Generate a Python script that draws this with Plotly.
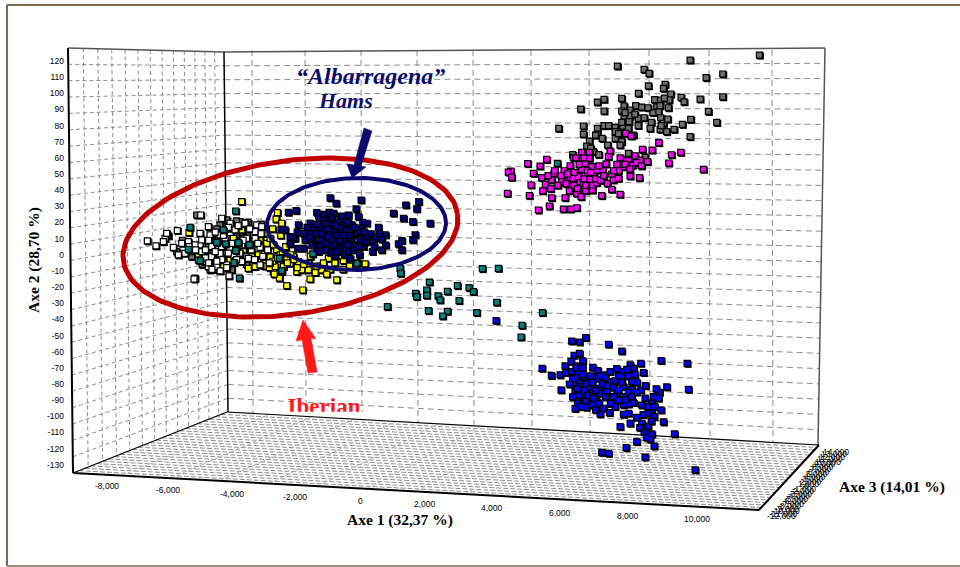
import math
import plotly.graph_objects as go

W, H = 960, 567
X0, XK = -11264.0, 30.5
Y0, YK = 157.7, 0.619

def dx(p):
    return X0 + XK * p

def dy(p):
    return Y0 - YK * p

gray_x = [11898,9783,7566,8380,8532,10780,10271,8512,9020,8970,8207,9193,10780,10088,9508,9600,9142,8868,7159,6956,7698,8125,8308,7769,6447,7159,7698,7953,8766,8868,9122,8817,10342,7769,7953,8207,8380,8888,9803,10597,7922,8970,9549,5776,6529,7159,6956,7495,7729,8563,8868,9071,9295,6956,7495,6529,8054,9783,6712,7698,7271,6630,7647,6834,7902,8410,
          -6129,-5265,-5316,-4604,-4248,-4044,-4655,-4909,-5062,-4451,-4095,-5417,-4350,-3943,-4553,-4858,-4197,-5875,
          -5700,-5200,-4950,-4750,-4500,-4300,-4150,-3950,-3900,-3650,-3750,-4450,-5100,-4200,-4650,-4050,-3700,-3300,-3600,-3800,
          8700,8650,8600,8200,7700,7900,7300,7100,6750,7000,6200,6900,7500,8900,9100,8500,9000,7800,8100,7600]
gray_y = [123.6,120.5,116.8,114.7,112.3,111.9,109.6,104.6,105.5,103,99.9,99.5,97.8,96.4,97.4,94.7,95.8,95.8,96.2,94.5,96.8,92.3,91.4,92.1,90.2,89,89,89.6,91.6,92.3,91,88.5,88.7,85.9,85.9,84.4,84.8,84.8,83.8,81.9,82.4,81.3,80.7,78.2,79.7,79.9,78.2,78.8,79.7,78.2,77.6,76.2,77.6,74.5,76.2,74.7,74.1,73.1,70.4,70,67.9,67.3,67.9,63.8,62.8,60.3,
          11.7,24.6,-14.5,-9.4,17.4,12.3,10.2,6.1,-1.1,-2.2,8.1,-1.1,21.6,20.5,18.5,-9.4,-9.4,1.9,
          9,4,-3,0,5,10,2,-2,14,13,-6,-6,-6,-5,16,21,20,19,8,4,
          96,88,82,80,82,78,80,72,66,62,62,74,72,80,84,91,97,88,87,75]
magenta_x = [4210,4881,5156,5491,5919,6142,6325,4312,4240,4342,4830,5207,5410,5003,4932,5257,5369,5288,5532,5563,5563,5969,6325,6458,6600,6803,7088,7393,7647,7261,7444,7597,7953,8237,7393,7749,7769,7902,8105,8034,8258,8481,8329,8624,8827,9214,9498,9132,10190,7820,7983,7342,7291,6478,6712,6224,6712,6580,6122,5939,5634,5847,5868,6122,6203,6122,6102,6427,6529,6813,6580,6834,6783,6936,7119,7220,6478,6376,6732,6936,
             6000,6250,6400,6550,6650,6900,7050,6600,6250,6050,5750,5650,6350,7150,7000,6550,6750,6300,5450,7800,7950,8150,7600,7550,7650,8300,7450]
magenta_y = [38,36.6,27.7,30.2,28.3,28.3,29.1,51.8,51.2,47.9,56.4,54.9,59,50.4,43.2,47.7,43.6,39.6,40.9,46.3,35.3,35.3,38,35.9,39.6,40,36.6,40.5,37.4,44.2,46.3,47.3,48.7,47.7,50,54.5,58.6,58.2,61.3,55.5,58.6,57.6,65.2,64.8,69.4,61.9,63.4,56.8,52.9,75.1,73.5,64.2,60.7,63.4,63.4,60.1,59.7,56.2,55.1,52,50.4,48.9,45.2,47.9,47.3,42.7,39.6,45.2,44.2,43.2,49.3,49.3,54.5,52.4,52,56.2,52.9,48.3,46.7,44.6,
             44,51,56,60,52,47,46,43,43,50,43,52,41,49,55,47,51,60,49,56,53,57,52,56,60,55,52]
yellow_x = [-3892,-2804,-2844,-2671,-5499,-2519,-2031,-993,-1807,-2743,-2926,-2671,-2214,-1858,-1451,-1197,-790,-943,-1248,-1858,-2163,-2417,-2875,-2621,-3231,-3028,-2824,-2926,-3129,-3333,-3536,-3180,-3028,-2722,-2316,-3689,-3892,-3587,-3841,-4807,-4248,-5214,-3384,-2519,-2061,-4044,-4451,-3129,-129,-3485,-4858,-4146,
            -3400,-3200,-2950,-2800,-2650,-2500,-2400,-2200,-2000,-1800,-1600,-1400,-1050,-600,-350,-2950,-2700,-2550,-3200,-2300,-1650,-2900,-3050,-800,-1300]
yellow_y = [32.9,26.1,22,19.5,13.7,-19.1,-21.8,-15.6,-15,-14.5,-10.4,-10.4,-10.4,-9.4,-9.4,-9,-3.6,-0.7,-2.2,-5.3,-4.2,-5.3,-7.3,-7.3,-5.3,-1.1,3,6.1,7.1,9.2,12.3,13.3,10.2,-0.1,-1.1,-8.4,15.4,0.9,3,10.2,-3.2,-0.1,-0.1,-3.2,-9.4,5.1,-7.3,3,-5.7,-7.3,-2.2,10.2,
            -3,2,-4,-2,2,-5,0,-8,-6,-1,-7,-5,-5,-7,-5,16,12,5,-7,-3,-11,-12,-8,-9,-12]
white_x = [-6770,-6506,-6231,-6180,-5855,-5143,-5346,-4278,-5977,-5723,-5519,-5824,-5621,-5163,-5112,-5163,-4909,-4502,-4248,-3790,-3434,-4858,-5112,-4807,-4553,-4350,-4655,-4909,-4095,-4400,-4146,-3333,-3333,-3688,-3739,-3485,-3282,-4807,-4502,-5214,-4248,-5011,-3892,-5417,-3485,-6282,-4553,-3892,-4350,-5316,
           -5000,-4900,-4700,-4600,-4700,-4450,-4300,-4200,-4050,-3950,-3850,-3600,-3500,-3400,-4500,-4350,-4650,-5000,-5300,-5500,-4900,-4550,-4800,-4300,-4000,-3650,-3300,-3100,-3050,-3250]
white_y = [8.6,5.5,10.2,13.3,15,24.6,-15,-13.1,4.6,7.1,8.1,-0.1,0.9,6.1,9.2,13.3,17.4,22.6,19.5,19.5,18.5,12.3,2,-1.1,0.9,-6.3,-7.3,-7.3,15.4,9.2,-0.1,4.6,-6.3,-2.2,10.2,10.2,17.4,5.1,5.1,-3.2,4,-4.2,6.1,2.4,14.3,8.1,12.3,-4.2,16.4,6.1,
           3,9,2,8,14,12,1,7,-3,1,9,3,-3,7,-3,-8,-4,-2,3,5,-5,-10,-9,17,18,16,13,3,-5,-1]
teal_x = [3448,3936,936,957,1831,1414,1445,1750,1750,2096,2157,2380,2686,3041,3174,2736,3886,550,1801,2380,2238,3275,5279,4659,4628,5735,
          -4075,-5468,-4451,-4655,-5519,-4380,-3994,-3658,-4075,-5163,-4126,-3963,-2743,-2671,-2265,-1726,-1197,-383]
teal_y = [-8.6,-8.4,-8.4,-11.5,-16.9,-23.9,-25.9,-21.8,-25.1,-25.5,-28,-22.6,-19.1,-20.4,-22.8,-28.4,-29.4,-32.1,-34.6,-35,-37.9,-35.8,-35.8,-43.7,-50.9,56.6,
          27.1,17,15.4,7.7,3.4,6.7,7.5,6.1,2.6,-3.6,-4.9,-14.5,-2.2,-9.8,10.2,0.5,6.1,-5.3]
navy_x = [-1197,-1014,-251,1112,1508,1447,735,1041,1325,1854,-2234,-2468,-1604,-1227,-404,-638,-333,-892,-1502,-1807,-2163,-1909,-1604,-1248,-1095,-790,-536,-78,278,491,380,1397,1325,990,888,990,380,95,-180,-434,-739,-892,-485,-231,-78,125,-1197,-1400,-1705,-1960,-2316,-2570,-2692,-2417,-2183,-1604,-1197,-892,-485,-1044,-1502,-1807,-587,-1380,-1095,-1705,-2011,-1502,-943,-282,-2417,
          -1500,-1350,-1200,-1000,-900,-700,-650,-1800,-1650,-1450,-1300,-1150,-1000,-800,-650,-550,-350,-150,50,200,-1900,-1550,-1400,-1150,-1300,-1750,-1550,-1350,-1000,-750,-300,-100,150,300,-2000,-1250,-1100,-900,-600,-450,-200,-1600,-1450,-850,-1050,-2200,-800,-300,500,-650]
navy_y = [35.2,31.9,33.9,30.8,32.9,28.4,25.7,22.6,20.5,19.5,27.3,26.3,26.1,26.3,28.4,24.6,23.6,22,21.6,19.5,18.5,14.3,16.4,18.5,15.4,18.5,18.5,19.5,17,12.3,9.6,12.3,9.2,8.8,6.7,3,3,2,5.1,6.1,10.2,13.3,12.3,16.4,11.2,8.1,11.2,11.2,8.1,9.2,10.2,15.4,15.8,6.7,4,4,1.3,4,3,-0.7,6.1,13.3,-2.2,21.6,25.7,16.4,13.3,12.3,8.1,9.2,11.2,
          17,19,14,20,17,15,20,11,13,9,7,9,12,7,6,10,14,14,13,11,17,24,25,23,16,6,2,3,2,0,0,8,5,13,4,11,6,9,12,17,20,19,13,24,18,14,12,5,6,2]
blue_x = [6174,6408,6601,7293,7699,6245,6408,6509,6347,8899,9693,5269,5970,5553,5818,5991,6174,6377,6815,6967,7343,7547,7720,7954,8055,8279,8360,6377,6682,6987,7343,7699,8004,8157,5848,6245,6428,6682,6987,7445,7750,8004,8279,8421,9072,9733,8849,6276,6530,6784,7038,7343,7547,7801,8411,8666,8818,6347,6632,6937,7394,7750,8055,8615,6276,6611,7038,7323,7750,7903,8615,8899,8157,8686,8970,7649,7954,8310,8381,8615,8564,9306,8157,8686,7832,7089,7293,8411,9937,3865,6530,7140,7598,7242,6835,7496,7903,
          6300,6500,6600,6800,6900,7100,7200,7500,7700,7900,8100,6200,6400,6600,6800,7000,7200,7450,7600,7900,8150,8300,8500,6450,6900,7150,6200,6350,6550,7250,7050,6750,7800,8000,8500,8700,8350,8500,8250,8450,6150,6300,6500,7600,7850,8750,6100,6650,7350,8600]
blue_y = [-53.4,-54,-51.3,-55.4,-59.6,-62.2,-61,-65.7,-68.8,-65.5,-67.2,-70.3,-68.8,-74.8,-74.4,-72.9,-72.3,-73.4,-69.7,-71.7,-72.3,-70.5,-72.3,-68.2,-70.3,-67.2,-72.9,-78.5,-77.1,-76.5,-78.5,-75.4,-78.5,-78.9,-83.7,-80.6,-81.6,-81.6,-82.7,-82,-81.6,-83.3,-83.7,-81,-81.8,-83.3,-85.1,-84.7,-87.8,-85.8,-85.8,-87.8,-85.8,-87.8,-88.8,-87.8,-88.8,-91.9,-92.9,-90.9,-90.9,-92.9,-91.5,-91.9,-95.2,-94.4,-98.5,-97.7,-98.8,-98.1,-96.1,-96.1,-100.6,-100.2,-103.5,-106.4,-104.3,-104.3,-109.5,-110.9,-114.2,-110.9,-115.7,-118.4,-119.4,-122.3,-122.9,-125.2,-133.2,-40.8,-75.4,-74.4,-83.7,-84.7,-88.8,-94,-92.4,
          -76,-74,-80,-79,-84,-80,-76,-78,-79,-75,-74,-88,-87,-90,-93,-92,-88,-88,-90,-85,-85,-93,-94,-94,-96,-95,-77,-83,-84,-81,-75,-75,-90,-88,-98,-94,-99,-106,-107,-113,-66,-70,-70,-75,-71,-83,-80,-87,-92,-103]

axe2_ticks = list(range(-130, 121, 10))
axe1_labels = ["-8,000","-6,000","-4,000","-2,000","0","2,000","4,000","6,000","8,000","10,000"]
axe3_labels = [f"{v:,}" for v in range(-12000, 14001, 1000)]

axe1_px = [107,168,232,295,360,425,492,560,628,697]
axe1_py = [486,490,494,497,501,504,508,513,516,519]

fig = go.Figure()

def line_trace(segs, color, width, dash="solid"):
    xs, ys = [], []
    for (a, b, c, d) in segs:
        xs += [dx(a), dx(c), None]
        ys += [dy(b), dy(d), None]
    fig.add_trace(go.Scatter(x=xs, y=ys, mode="lines", hoverinfo="skip", showlegend=False,
                             line=dict(color=color, width=width, dash=dash)))

def poly(pts, color):
    fig.add_trace(go.Scatter(x=[dx(p[0]) for p in pts] + [dx(pts[0][0])],
                             y=[dy(p[1]) for p in pts] + [dy(pts[0][1])],
                             mode="lines", fill="toself", fillcolor=color, hoverinfo="skip",
                             showlegend=False, line=dict(color=color, width=0.5)))

def ellipse(cx, cy, a, b, deg, color, width):
    th = math.radians(deg)
    xs, ys = [], []
    for i in range(181):
        t = 2 * math.pi * i / 180
        xs.append(dx(cx + a * math.cos(t) * math.cos(th) - b * math.sin(t) * math.sin(th)))
        ys.append(dy(cy - a * math.cos(t) * math.sin(th) - b * math.sin(t) * math.cos(th)))
    fig.add_trace(go.Scatter(x=xs, y=ys, mode="lines", hoverinfo="skip", showlegend=False,
                             line=dict(color=color, width=width)))

# back wall grid
segs = [(228 - 4 * (25 - k) / 25, 52 + 13.85 * k, 825 - 7 * k / 26, 48 + 15.27 * k) for k in range(1, 26)]
line_trace(segs, "#8c8c8c", 1, "6px,4px")
bw_x = [252,305,361,417,473,531,589,649,709,772]
line_trace([(v, 50, v + 1, 412 + 33 * (v - 228) / 592) for v in bw_x], "#8c8c8c", 1, "6px,4px")

# side wall grid
segs = []
for k in range(1, 26):
    segs.append((68 + 5 * k / 26, 48 + 16.35 * k, 224 + 4 * k / 26, 52 + 13.85 * k))
line_trace(segs, "#8c8c8c", 1, "4px,3px")
segs = []
for i in range(1, 13):
    s = i / 13
    t = s * 1.3 / (1 + 0.3 * s)
    segs.append((68 + 156 * t, 48 + 4 * t, 73 + 155 * t, 473 - 61 * t))
line_trace(segs, "#8c8c8c", 1, "4px,3px")

# caption cut off by a white strip at the floor edge
fig.add_trace(go.Scatter(x=[dx(324)], y=[dy(408)], mode="text", text=["Iberian"], hoverinfo="skip",
                         showlegend=False,
                         textfont=dict(family="Liberation Serif", size=23, color="#ff1a1a", weight="bold")))
poly([(282, 412), (368, 412), (368, 426), (282, 426)], "#ffffff")

# floor
segs = []
for k in range(1, 26):
    t = k / 26
    segs.append((73 + 154 * t, 473 - 61 * t, 759 + 60 * t, 510 - 65 * t))
line_trace(segs, "#8c8c8c", 1, "5px,2px")
segs = []
for i in range(1, 14):
    u = i / 14
    segs.append((73 + 686 * u, 473 + 37 * u, 227 + 592 * u, 412 + 33 * u))
line_trace(segs, "#a5a5a5", 0.8, "3px,3px")

# box edges
line_trace([(68, 48, 224, 52), (224, 52, 825, 48)], "#555555", 1.5)
line_trace([(825, 48, 818, 445)], "#555555", 1.5)
line_trace([(224, 52, 228, 412)], "#000000", 1.5)
line_trace([(68, 48, 73, 473)], "#000000", 2)
line_trace([(73, 473, 759, 510), (759, 510, 819, 445)], "#000000", 2)
line_trace([(227, 412, 819, 445), (73, 473, 227, 412)], "#000000", 1.2)

def points(x, y, color):
    fig.add_trace(go.Scatter(x=[v + XK for v in x], y=[v - YK for v in y], mode="markers", showlegend=False,
                             hoverinfo="skip", marker=dict(symbol="square", size=7, color="#000000")))
    fig.add_trace(go.Scatter(x=x, y=y, mode="markers", showlegend=False,
                             marker=dict(symbol="square", size=6, color=color,
                                         line=dict(color="#000000", width=1.2))))

points(gray_x, gray_y, "#6e6e6e")
points(magenta_x, magenta_y, "#ff00ff")
points(yellow_x, yellow_y, "#ffff00")
points(white_x, white_y, "#ffffff")
points(teal_x, teal_y, "#008080")
points(navy_x, navy_y, "#000080")
points(blue_x, blue_y, "#0000ff")

ellipse(290.5, 237.5, 168.8, 76.7, 8, "#c00000", 5)
ellipse(356.5, 224, 89.5, 46, 1, "#0a0a6e", 4)
poly([(364, 128), (372, 131), (361, 166), (366, 167), (352, 178), (347, 164), (354, 165)], "#0a0a6e")
poly([(303, 320), (316, 339), (311, 338), (317, 372), (308, 373), (302, 340), (296, 341)], "#ff1a1a")

def note(px, py, text, size, color="#000000", family="Liberation Sans", bold=False, italic=False, angle=0):
    t = text
    if bold:
        t = f"<b>{t}</b>"
    if italic:
        t = f"<i>{t}</i>"
    fig.add_annotation(xref="paper", yref="paper", x=px / W, y=1 - py / H, text=t, showarrow=False,
                       xanchor="center", yanchor="middle", textangle=angle,
                       font=dict(family=family, size=size, color=color))

for lab, a, b in zip(axe1_labels, axe1_px, axe1_py):
    note(a, b, lab, 8.5)
n = len(axe3_labels)
for i, lab in enumerate(axe3_labels):
    note(781 + 55 * i / (n - 1), 516 - 64 * i / (n - 1), lab, 8.5)

note(400, 520, "Axe 1 (32,37 %)", 15.5, family="Liberation Serif", bold=True)
note(34, 260, "Axe 2 (28,70 %)", 15.5, family="Liberation Serif", bold=True, angle=-90)
note(892, 487, "Axe 3 (14,01 %)", 15.5, family="Liberation Serif", bold=True)
note(370, 76, "“Albarragena”", 24, color="#0a0a6e", family="Liberation Serif", bold=True, italic=True)
note(345, 100, "Hams", 22, color="#0a0a6e", family="Liberation Serif", bold=True, italic=True)

# page frame
fig.add_shape(type="line", xref="paper", yref="paper", x0=7 / W, x1=7 / W, y0=1 - 5 / H, y1=1 - 566 / H,
              line=dict(color="#7a6a50", width=2))
fig.add_shape(type="line", xref="paper", yref="paper", x0=7 / W, x1=1, y0=1 - 5 / H, y1=1 - 5 / H,
              line=dict(color="#7a6a50", width=2))
fig.add_shape(type="line", xref="paper", yref="paper", x0=7 / W, x1=1, y0=1 - 566 / H, y1=1 - 566 / H,
              line=dict(color="#9a9078", width=2))

fig.update_layout(
    width=W, height=H, margin=dict(l=0, r=0, t=0, b=0),
    paper_bgcolor="#ffffff", plot_bgcolor="#ffffff", showlegend=False,
    xaxis=dict(range=[dx(0), dx(W)], visible=False, domain=[0, 1]),
    yaxis=dict(range=[dy(H), dy(0)], anchor="free", position=64 / W, side="left",
               tickmode="array", tickvals=axe2_ticks, ticktext=[str(v) for v in axe2_ticks],
               showgrid=False, zeroline=False, showline=False, ticks="", ticklabelstandoff=0,
               tickfont=dict(family="Liberation Sans", size=8.5, color="#000000")),
)

fig.write_html("out.html", config={"displayModeBar": False}, post_script="document.body.style.margin='0';")
